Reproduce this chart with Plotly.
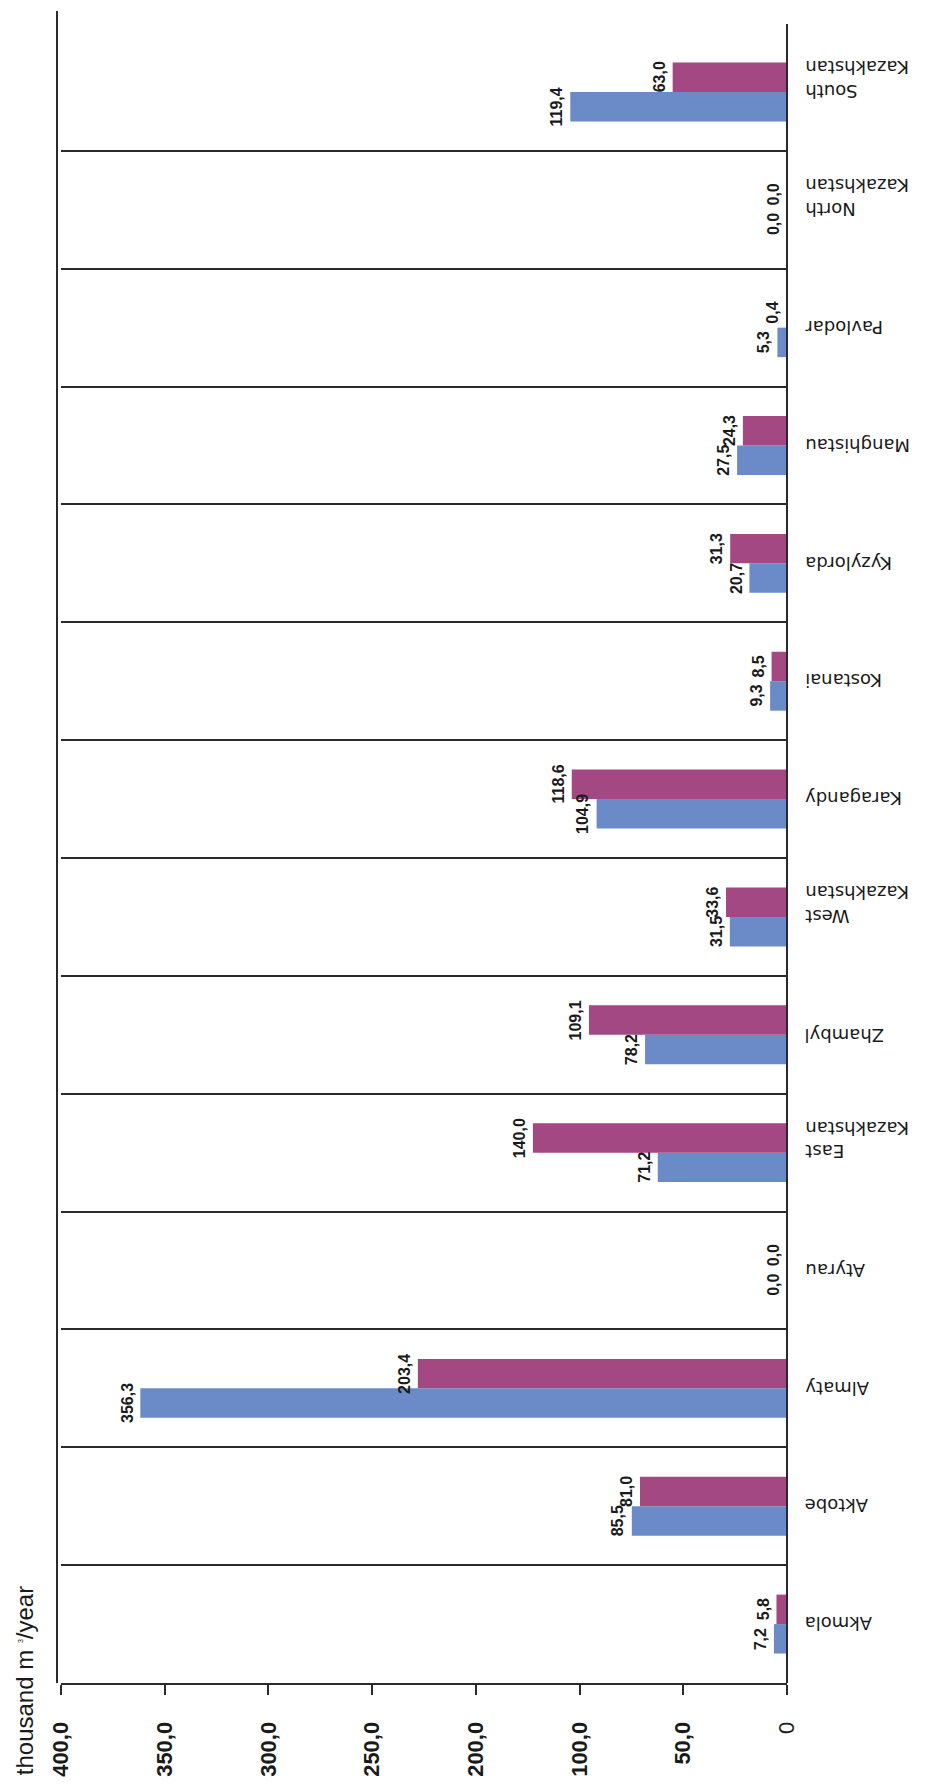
import numpy as np
import plotly.graph_objects as go

regions = ["Akmola", "Aktobe", "Almaty", "Atyrau", "East Kazakhstan", "Zhambyl",
           "West Kazakhstan", "Karagandy", "Kostanai", "Kyzylorda", "Manghistau",
           "Pavlodar", "North Kazakhstan", "South Kazakhstan"]
region_labels = ["Akmola", "Aktobe", "Almaty", "Atyrau", "East<br>Kazakhstan", "Zhambyl",
                 "West<br>Kazakhstan", "Karagandy", "Kostanai", "Kyzylorda", "Manghistau",
                 "Pavlodar", "North<br>Kazakhstan", "South<br>Kazakhstan"]
series_blue = [7.2, 85.5, 356.3, 0.0, 71.2, 78.2, 31.5, 104.9, 9.3, 20.7, 27.5, 5.3, 0.0, 119.4]
series_purple = [5.8, 81.0, 203.4, 0.0, 140.0, 109.1, 33.6, 118.6, 8.5, 31.3, 24.3, 0.4, 0.0, 63.0]
tick_labels = ["0", "<b>50,0</b>", "<b>100,0</b>", "<b>200,0</b>", "<b>250,0</b>",
               "<b>300,0</b>", "<b>350,0</b>", "<b>400,0</b>"]
axis_max = 400
axis_title = "thousand m <sup><span style='font-size:7px'>3</span></sup>/year"

BLUE = "#6A8BC7"
PURPLE = "#A34882"
LINE = "#2a2a2a"
TXT = "#1a1a1a"
SANS = "Liberation Sans, Arial, sans-serif"

W, H = 935, 1789
ml, mr, mt, mb = 61, 148, 33, 101
pw, ph = W - ml - mr, H - mt - mb
cat_px = ph / len(regions)
bargap = 0.5
bar_px = cat_px * (1 - bargap) / 2

fig = go.Figure()
annotations = []
for k, (vals, col) in enumerate([(series_blue, BLUE), (series_purple, PURPLE)]):
    fig.add_trace(go.Bar(
        y=regions, x=vals, orientation="h", marker=dict(color=col, line=dict(width=0)),
        showlegend=False, hoverinfo="skip"))
    offset = (k - 0.5) * bar_px
    for r, v in zip(regions, vals):
        annotations.append(dict(
            x=v, xref="x", y=r, yref="y", text="<b>" + f"{v:.1f}".replace(".", ",") + "</b>",
            textangle=-90, showarrow=False, xanchor="right", yanchor="middle",
            xshift=-3, yshift=offset,
            font=dict(family=SANS, size=16, color=TXT)))

for r, lab in zip(regions, region_labels):
    nlines = lab.count("<br>") + 1
    annotations.append(dict(
        x=1, xref="paper", y=r, yref="y", text=lab, textangle=180, showarrow=False,
        xanchor="left", yanchor="middle", xshift=16, yshift=12 * (nlines - 1),
        align="right",
        font=dict(family="DejaVu Sans, Liberation Sans, sans-serif", size=18, color=TXT)))

annotations.append(dict(
    x=(24 - ml) / pw, xref="paper", y=-(1783 - (mt + ph)) / ph, yref="paper",
    text=axis_title, textangle=-90, showarrow=False, xanchor="center", yanchor="bottom",
    font=dict(family=SANS, size=24, color=TXT)))

shapes = [
    dict(type="line", xref="paper", yref="paper", x0=-4 / pw, x1=-4 / pw,
         y0=0, y1=(ph + 22) / ph, line=dict(color=LINE, width=2)),
    dict(type="line", xref="paper", yref="paper", x0=1, x1=1,
         y0=0, y1=(ph + 9) / ph, line=dict(color=LINE, width=2)),
]

fig.update_layout(
    width=W, height=H, margin=dict(l=ml, r=mr, t=mt, b=mb),
    paper_bgcolor="white", plot_bgcolor="white",
    barmode="group", bargap=bargap, bargroupgap=0,
    annotations=annotations, shapes=shapes,
    xaxis=dict(range=[axis_max, 0], tickvals=list(np.linspace(0, axis_max, len(tick_labels))),
               ticktext=tick_labels, tickangle=-90, ticks="outside", ticklen=10, tickwidth=2,
               tickcolor=LINE, showline=True, linecolor=LINE, linewidth=2, mirror=False,
               showgrid=False, zeroline=False, ticklabelstandoff=18,
               tickfont=dict(family=SANS, size=22, color=TXT)),
    yaxis=dict(categoryorder="array", categoryarray=regions, range=[-0.5, len(regions) - 0.5],
               showticklabels=False, ticks="", tickson="boundaries", showgrid=True,
               gridcolor=LINE, gridwidth=1.5, showline=False, zeroline=False),
)

fig.write_html("out.html")
